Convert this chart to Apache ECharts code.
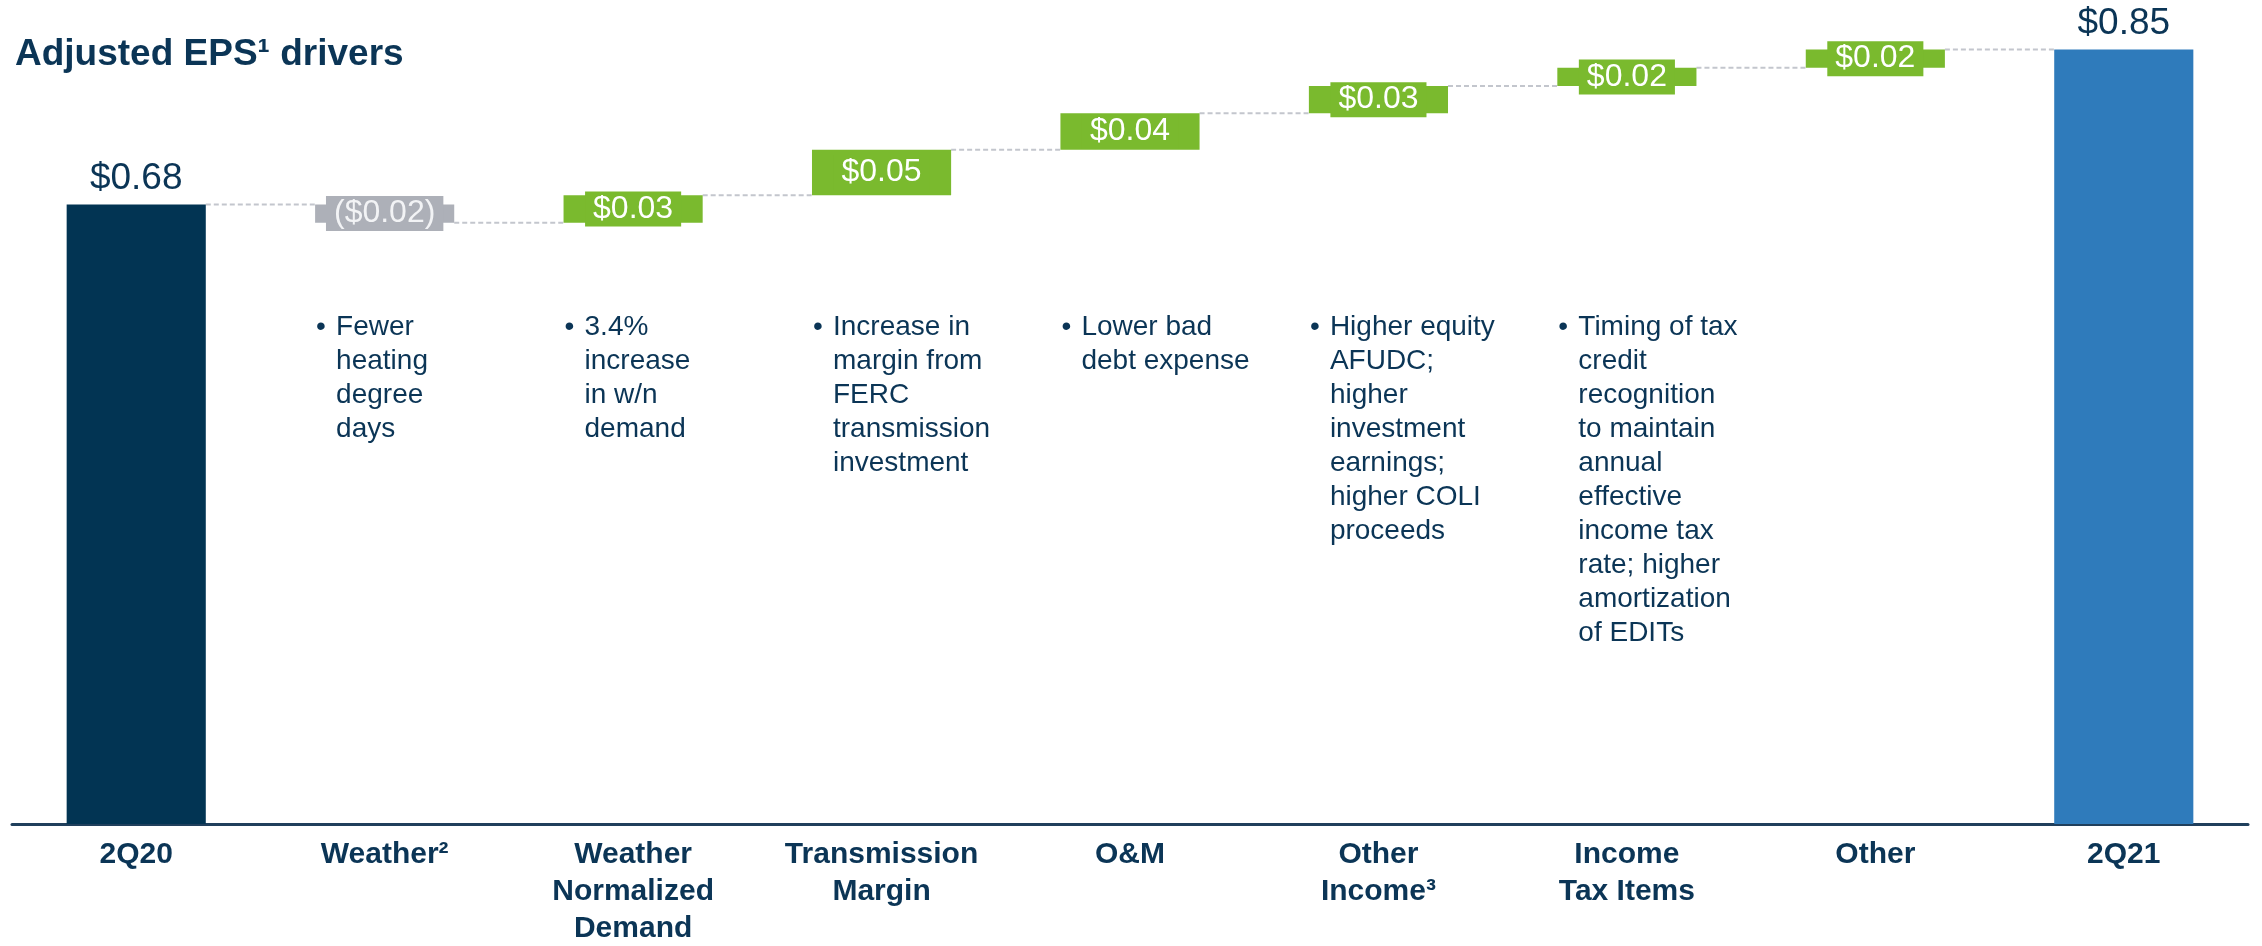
<!DOCTYPE html>
<html>
<head>
<meta charset="utf-8">
<title>Adjusted EPS drivers</title>
<script src="https://cdn.jsdelivr.net/npm/echarts@6/dist/echarts.min.js"></script>
<style>
  html, body { margin: 0; padding: 0; background: #ffffff; }
  #chart { width: 2262px; height: 946px; }
</style>
</head>
<body>
<div id="chart"></div>
<script>
// categories along the x axis
var categories = ['2Q20', 'Weather²', 'Weather\nNormalized\nDemand', 'Transmission\nMargin',
  'O&M', 'Other\nIncome³', 'Income\nTax Items', 'Other', '2Q21'];
// first and last are totals, the rest are changes
var changes = [0.68, -0.02, 0.03, 0.05, 0.04, 0.03, 0.02, 0.02, 0.85];
var isTotal = [true, false, false, false, false, false, false, false, true];
// bullet notes under each driver
var notes = [
  '',
  'Fewer\nheating\ndegree\ndays',
  '3.4%\nincrease\nin w/n\ndemand',
  'Increase in\nmargin from\nFERC\ntransmission\ninvestment',
  'Lower bad\ndebt expense',
  'Higher equity\nAFUDC;\nhigher\ninvestment\nearnings;\nhigher COLI\nproceeds',
  'Timing of tax\ncredit\nrecognition\nto maintain\nannual\neffective\nincome tax\nrate; higher\namortization\nof EDITs',
  '',
  ''
];

var NAVY = '#023453';
var BLUE = '#2f7bbb';
var GREEN = '#7aba2e';
var GREY = '#adb0b8';
var TEXT = '#0b3556';
var FONT = '"Liberation Sans", Arial, sans-serif';
var BAR_RATIO = 0.56;

// build the waterfall pieces
var base = [], height = [], levels = [];
var running = 0;
changes.forEach(function (v, i) {
  if (isTotal[i]) {
    base.push(0);
    height.push(v);
    running = v;
  } else {
    running += v;
    base.push(Math.min(running, running - v));
    height.push(Math.abs(v));
  }
  levels.push(Math.round(running * 100) / 100);
});

function fmt(v) {
  var s = '$' + Math.abs(v).toFixed(2);
  return v < 0 ? '(' + s + ')' : s;
}

var barData = height.map(function (h, i) {
  var color, label;
  if (i === 0) color = NAVY;
  else if (i === changes.length - 1) color = BLUE;
  else color = changes[i] < 0 ? GREY : GREEN;
  if (isTotal[i]) {
    label = { show: true, position: 'top', distance: 7, color: TEXT, fontSize: 37, fontFamily: FONT };
  } else {
    label = {
      show: true, position: 'inside', color: changes[i] < 0 ? '#f2f3f5' : '#ffffff',
      fontSize: 32, fontFamily: FONT, backgroundColor: color,
      padding: [1, 8], lineHeight: 33
    };
  }
  return { value: h, itemStyle: { color: color }, label: label };
});

var chart = echarts.init(document.getElementById('chart'));

chart.setOption({
  animation: false,
  title: {
    text: 'Adjusted EPS¹ drivers',
    left: 10, top: 31,
    textStyle: { color: TEXT, fontSize: 37, fontWeight: 'bold', fontFamily: FONT }
  },
  grid: { left: 12, right: 14, top: 4, bottom: 122, outerBoundsMode: 'none' },
  xAxis: {
    type: 'category',
    data: categories,
    axisTick: { show: false },
    axisLine: { lineStyle: { color: '#203f5c', width: 3 } },
    axisLabel: {
      color: TEXT, fontSize: 30, fontWeight: 'bold', fontFamily: FONT,
      lineHeight: 37, margin: 12, interval: 0
    }
  },
  yAxis: { type: 'value', min: 0, max: 0.9, show: false, splitLine: { show: false } },
  series: [
    {
      type: 'bar', stack: 'wf', barWidth: (BAR_RATIO * 100) + '%',
      itemStyle: { color: 'transparent' },
      data: base, silent: true
    },
    {
      type: 'bar', stack: 'wf', barWidth: (BAR_RATIO * 100) + '%',
      data: barData,
      label: { formatter: function (p) { return fmt(changes[p.dataIndex]); } }
    },
    {
      // dashed connectors between neighbouring bars
      type: 'custom', silent: true,
      data: levels.slice(0, -1).map(function (l, i) { return [i, l]; }),
      renderItem: function (params, api) {
        var i = api.value(0);
        var half = api.size([1, 0])[0] * BAR_RATIO / 2;
        var p0 = api.coord([i, api.value(1)]);
        var p1 = api.coord([i + 1, api.value(1)]);
        return {
          type: 'line',
          shape: { x1: p0[0] + half, y1: p0[1], x2: p1[0] - half, y2: p1[1] },
          style: { stroke: '#c3c6cd', lineWidth: 2, lineDash: [5, 3] }
        };
      }
    },
    {
      // bullet notes under the bars
      type: 'custom', silent: true,
      data: notes.map(function (n, i) { return [i, 0]; }),
      renderItem: function (params, api) {
        var i = api.value(0);
        if (!notes[i]) return null;
        var half = api.size([1, 0])[0] * BAR_RATIO / 2;
        var x = api.coord([i, 0])[0] - half;
        var top = 310;
        return {
          type: 'group',
          children: [
            { type: 'text', style: { text: '•', x: x + 1, y: top, fill: TEXT,
              font: '28px ' + FONT, lineHeight: 34, verticalAlign: 'top' } },
            { type: 'text', style: { text: notes[i], x: x + 21, y: top, fill: TEXT,
              font: '28px ' + FONT, lineHeight: 34, verticalAlign: 'top' } }
          ]
        };
      }
    }
  ]
});
</script>
</body>
</html>
